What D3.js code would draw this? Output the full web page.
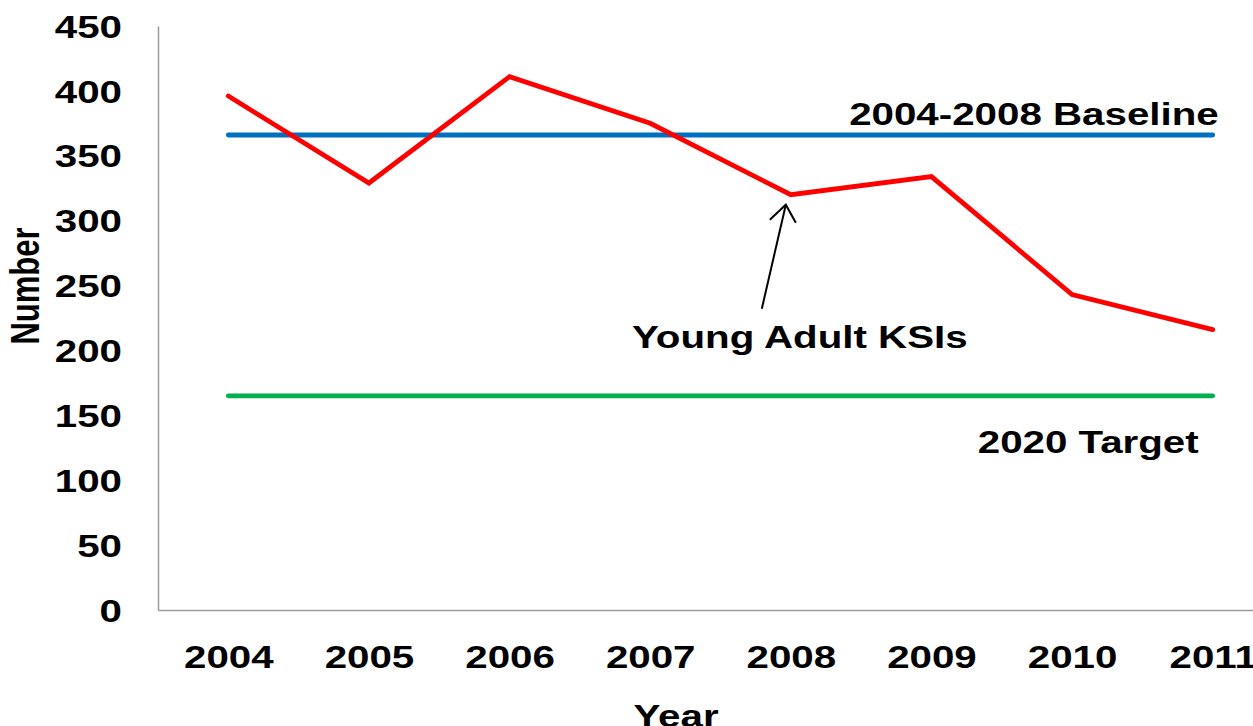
<!DOCTYPE html>
<html>
<head>
<meta charset="utf-8">
<script src="https://cdn.jsdelivr.net/npm/d3@7"></script>
<style>
  html, body { margin: 0; padding: 0; background: #fff; }
  svg { display: block; }
  text { font-family: "Liberation Sans", Arial, sans-serif; font-weight: bold; fill: #000; }
</style>
</head>
<body>
<svg id="chart" width="1253" height="726"></svg>
<script>
// Young adult killed or seriously injured (KSI) casualties by year
const years = ["2004", "2005", "2006", "2007", "2008", "2009", "2010", "2011"];
const ksi = [396, 329, 411, 375, 320, 334, 243, 216];
const baselineValue = 366;   // 2004-2008 average
const targetValue = 165;     // 2020 target
const yTicks = [0, 50, 100, 150, 200, 250, 300, 350, 400, 450];

const svg = d3.select("#chart");
const W = 1253, H = 726;
const plot = { left: 158, right: 1283, top: 26, bottom: 610 };
const fontSize = 31;
const stretch = 1.3;  // glyphs are drawn wide

const x = d3.scalePoint().domain(years).range([plot.left, plot.right]).padding(0.5);
const y = d3.scaleLinear().domain([0, 450]).range([plot.bottom, plot.top]);

// helper: horizontally widened text
function wideText(g, txt, tx, ty, anchor) {
  return g.append("text")
    .attr("transform", `translate(${tx},${ty}) scale(${stretch},1)`)
    .attr("text-anchor", anchor)
    .style("font-size", fontSize + "px")
    .text(txt);
}

// axes
const yAxis = d3.axisLeft(y).tickValues(yTicks).tickSize(0).tickPadding(0);
const gy = svg.append("g").attr("transform", `translate(${plot.left},0)`).call(yAxis);
gy.select(".domain").attr("stroke", "#9a9a9a").attr("stroke-width", 1.5);
gy.selectAll(".tick text").remove();
gy.selectAll(".tick").each(function(d) {
  wideText(d3.select(this), d, -36, 0, "end").attr("dy", "0.36em");
});

const xAxis = d3.axisBottom(x).tickSize(0).tickPadding(0);
const gx = svg.append("g").attr("transform", `translate(0,${plot.bottom})`).call(xAxis);
gx.select(".domain").attr("stroke", "#9a9a9a").attr("stroke-width", 1.5);
gx.selectAll(".tick text").remove();
gx.selectAll(".tick").each(function(d) {
  wideText(d3.select(this), d, 0, 58, "middle");
});

// axis titles
wideText(svg, "Year", 676, 727, "middle");
svg.append("text")
  .attr("transform", `translate(39,286) rotate(-90) scale(1,${stretch})`)
  .attr("text-anchor", "middle")
  .style("font-size", fontSize + "px")
  .text("Number");

// reference lines
const refLine = (v, color) => svg.append("line")
  .attr("x1", x(years[0])).attr("x2", x(years[years.length - 1]))
  .attr("y1", y(v)).attr("y2", y(v))
  .attr("stroke", color).attr("stroke-width", 4.8).attr("stroke-linecap", "round");
refLine(baselineValue, "#0070C0");
refLine(targetValue, "#00B050");

// KSI series
const line = d3.line().x((d, i) => x(years[i])).y(d => y(d));
svg.append("path")
  .datum(ksi)
  .attr("d", line)
  .attr("fill", "none")
  .attr("stroke", "#FF0000")
  .attr("stroke-width", 4.8)
  .attr("stroke-linejoin", "miter")
  .attr("stroke-linecap", "round");

// labels
const xLast = x(years[years.length - 1]);
wideText(svg, "2004-2008 Baseline", xLast + 6, y(baselineValue) - 10, "end");
wideText(svg, "2020 Target", xLast - 14, y(targetValue) + 57, "end");

// arrow pointing at the 2008 value
const px = x("2008"), py = y(ksi[4]);
const tip = [px - 5, py + 10], tail = [px - 29, py + 114];
const arrow = svg.append("g").attr("stroke", "#000").attr("stroke-width", 2).attr("fill", "none");
arrow.append("line").attr("x1", tail[0]).attr("y1", tail[1]).attr("x2", tip[0]).attr("y2", tip[1]);
arrow.append("polyline")
  .attr("points", [[tip[0] - 16, tip[1] + 15], tip, [tip[0] + 10, tip[1] + 18]].map(p => p.join(",")).join(" "));
wideText(svg, "Young Adult KSIs", px + 9, py + 153, "middle");
</script>
</body>
</html>
